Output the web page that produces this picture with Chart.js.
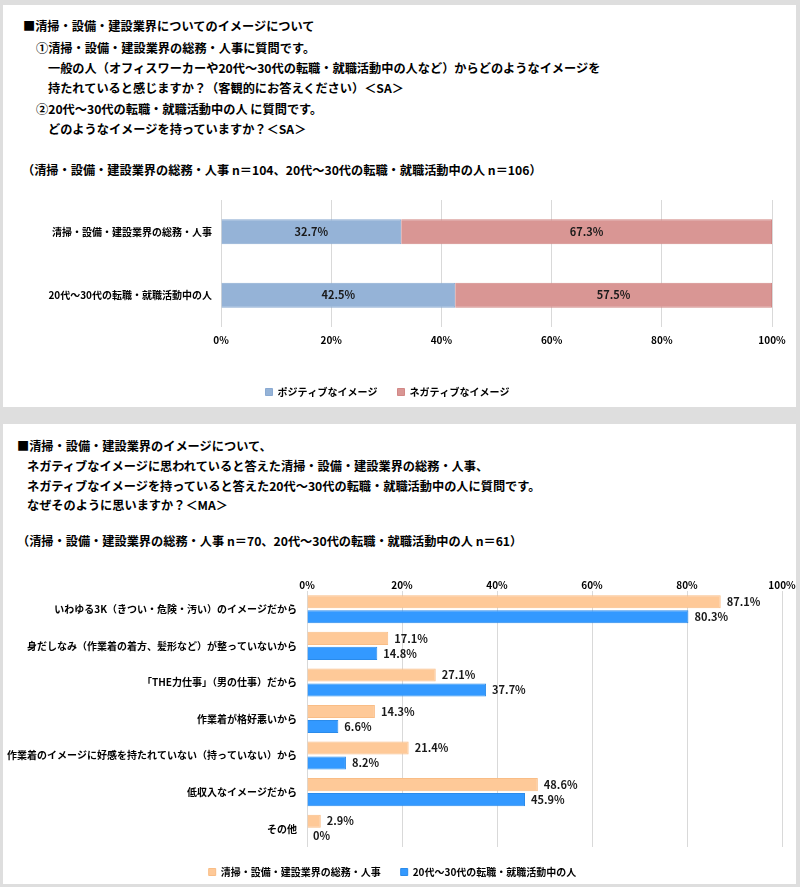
<!DOCTYPE html>
<html lang="ja">
<head>
<meta charset="utf-8">
<script src="https://cdn.jsdelivr.net/npm/chart.js@4"></script>
<style>
  html, body { margin: 0; padding: 0; }
  body { width: 800px; height: 887px; background: #dedede; position: relative; overflow: hidden;
         font-family: "Noto Sans CJK JP", sans-serif; color: #000; }
  .panel { position: absolute; background: #fff; }
  .t { position: absolute; font-size: 12.2px; font-weight: bold; line-height: 20px; white-space: nowrap; }
  canvas { position: absolute; }
</style>
</head>
<body>
<div class="panel" style="left:3px;top:5px;width:793px;height:402px"></div>
<div class="panel" style="left:3px;top:424px;width:793px;height:460px"></div>

<div class="t" style="left:23px;top:16px">■清掃・設備・建設業界についてのイメージについて</div>
<div class="t" style="left:36px;top:38px">①清掃・設備・建設業界の総務・人事に質問です。</div>
<div class="t" style="left:48px;top:58px">一般の人（オフィスワーカーや20代～30代の転職・就職活動中の人など）からどのようなイメージを</div>
<div class="t" style="left:48px;top:78px">持たれていると感じますか？（客観的にお答えください）＜SA＞</div>
<div class="t" style="left:36px;top:99px">②20代～30代の転職・就職活動中の人 に質問です。</div>
<div class="t" style="left:48px;top:119px">どのようなイメージを持っていますか？＜SA＞</div>
<div class="t" style="left:22px;top:160px">（清掃・設備・建設業界の総務・人事 n＝104、20代～30代の転職・就職活動中の人 n＝106）</div>

<div class="t" style="left:17px;top:436px">■清掃・設備・建設業界のイメージについて、</div>
<div class="t" style="left:27px;top:456px">ネガティブなイメージに思われていると答えた清掃・設備・建設業界の総務・人事、</div>
<div class="t" style="left:27px;top:476px">ネガティブなイメージを持っていると答えた20代～30代の転職・就職活動中の人に質問です。</div>
<div class="t" style="left:27px;top:495px">なぜそのように思いますか？＜MA＞</div>
<div class="t" style="left:17px;top:531px">（清掃・設備・建設業界の総務・人事 n＝70、20代～30代の転職・就職活動中の人 n＝61）</div>

<canvas id="chart1" width="793" height="222" style="left:3px;top:185px"></canvas>
<canvas id="chart2" width="793" height="313" style="left:3px;top:574px"></canvas>

<script>
// ── Data ──────────────────────────────────────────────
const groups1 = ['清掃・設備・建設業界の総務・人事', '20代～30代の転職・就職活動中の人'];
const positive = [32.7, 42.5];
const negative = [67.3, 57.5];
const legend1 = ['ポジティブなイメージ', 'ネガティブなイメージ'];

const reasons = [
  'いわゆる3K（きつい・危険・汚い）のイメージだから',
  '身だしなみ（作業着の着方、髪形など）が整っていないから',
  '「THE力仕事」（男の仕事）だから',
  '作業着が格好悪いから',
  '作業着のイメージに好感を持たれていない（持っていない）から',
  '低収入なイメージだから',
  'その他'
];
const hrStaff = [87.1, 17.1, 27.1, 14.3, 21.4, 48.6, 2.9];
const jobSeekers = [80.3, 14.8, 37.7, 6.6, 8.2, 45.9, 0];
const legend2 = ['清掃・設備・建設業界の総務・人事', '20代～30代の転職・就職活動中の人'];

const pctTicks = [0, 20, 40, 60, 80, 100];

Chart.defaults.font.family = '"Noto Sans CJK JP", sans-serif';
Chart.defaults.font.weight = 'bold';
Chart.defaults.font.size = 10;
Chart.defaults.color = '#000';
Chart.defaults.animation = false;

function fmt(v) { return v === 0 ? '0%' : v.toFixed(1) + '%'; }

// value labels drawn on/next to each bar
const barLabels = {
  id: 'barLabels',
  afterDatasetsDraw(chart, args, opts) {
    const { ctx } = chart;
    ctx.save();
    ctx.font = 'bold 11px "Noto Sans CJK JP"';
    ctx.fillStyle = '#1a1a1a';
    ctx.textBaseline = 'middle';
    chart.data.datasets.forEach((ds, i) => {
      chart.getDatasetMeta(i).data.forEach((bar, j) => {
        const txt = fmt(ds.data[j]);
        if (opts.inside) {
          ctx.textAlign = 'center';
          ctx.fillText(txt, (bar.x + bar.base) / 2, bar.y);
        } else {
          ctx.textAlign = 'left';
          ctx.fillText(txt, bar.x + 6, bar.y);
        }
      });
    });
    ctx.restore();
  }
};

function pctAxis(position, padding, height) {
  return {
    position,
    min: 0, max: 100,
    afterBuildTicks: s => { s.ticks = pctTicks.map(v => ({ value: v })); },
    ticks: { padding, callback: v => v + '%', font: { size: 10 } },
    grid: { color: '#d9d9d9', drawTicks: false },
    border: { display: false },
    afterFit: s => { s.height = height; }
  };
}

function catAxis(width, padding) {
  return {
    grid: { display: false, drawTicks: false },
    border: { display: false },
    ticks: { padding, font: { size: 10 } },
    afterFit: s => { s.width = width; }
  };
}

function legendOpts() {
  return {
    position: 'bottom',
    labels: { boxWidth: 7, boxHeight: 7, padding: 20, font: { size: 10 } }
  };
}

// ── Chart 1: stacked 100% bars ───────────────────────
new Chart(document.getElementById('chart1'), {
  type: 'bar',
  data: {
    labels: groups1,
    datasets: [
      { label: legend1[0], data: positive, backgroundColor: '#95b3d7', borderColor: '#8aaad2', borderWidth: 1 },
      { label: legend1[1], data: negative, backgroundColor: '#d99694', borderColor: '#d28886', borderWidth: 1 }
    ]
  },
  options: {
    indexAxis: 'y',
    responsive: false,
    barPercentage: 0.39,
    categoryPercentage: 1,
    layout: { padding: { top: 13, right: 24, bottom: 0, left: 0 } },
    scales: {
      x: { ...pctAxis('bottom', 7, 40), stacked: true },
      y: { ...catAxis(218, 9), stacked: true }
    },
    plugins: {
      legend: legendOpts(),
      tooltip: { enabled: false },
      barLabels: { inside: true }
    }
  },
  plugins: [barLabels]
});

// ── Chart 2: grouped bars ────────────────────────────
new Chart(document.getElementById('chart2'), {
  type: 'bar',
  data: {
    labels: reasons,
    datasets: [
      { label: legend2[0], data: hrStaff, backgroundColor: '#fec998', borderColor: '#f9bd86', borderWidth: 1 },
      { label: legend2[1], data: jobSeekers, backgroundColor: '#3399ff', borderColor: '#2b8bea', borderWidth: 1 }
    ]
  },
  options: {
    indexAxis: 'y',
    responsive: false,
    barPercentage: 0.87,
    categoryPercentage: 0.82,
    layout: { padding: { top: 0, right: 14, bottom: 0, left: 0 } },
    scales: {
      x: pctAxis('top', 0, 17),
      y: catAxis(304, 10)
    },
    plugins: {
      legend: legendOpts(),
      tooltip: { enabled: false },
      barLabels: { inside: false }
    }
  },
  plugins: [barLabels]
});
</script>
</body>
</html>
